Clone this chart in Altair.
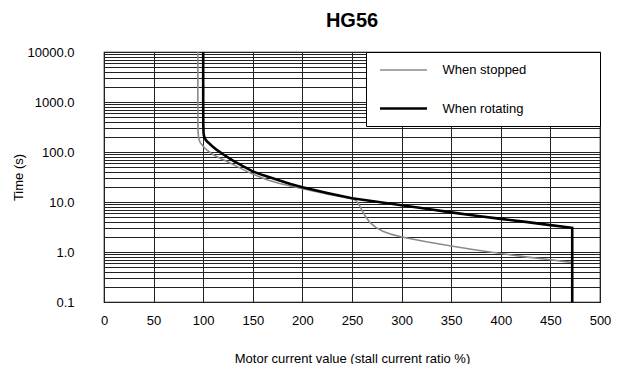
import altair as alt
import pandas as pd

# ---- data ----
series_names = ["When stopped", "When rotating"]
series_colors = ["#8a8a8a", "#000000"]
series_widths = [1.6, 2.6]

stopped_x = [94.6, 94.6, 94.7, 94.9, 95.3, 96.0, 97.2, 99.2, 101.5, 104.2, 107.5, 111,
             117.6, 125, 134.4, 145, 154.6, 165, 177, 199, 227, 250, 252, 254,
             256, 258, 261, 264, 268, 274, 281, 290, 300, 325, 350, 375,
             400, 425, 450, 471]
stopped_y = [10000, 1000, 300, 240, 200, 172, 152, 136, 120, 108, 96, 86,
             74, 63, 51, 40, 33, 27.5, 23.5, 18.6, 14.2, 11.7, 11.3, 10.6,
             9.6, 8.2, 6.3, 5.0, 3.9, 3.1, 2.6, 2.25, 2.0, 1.6, 1.32, 1.1,
             0.93, 0.8, 0.7, 0.62]

rotating_x = [100, 100, 100.1, 100.3, 100.7, 101.5, 102.8, 104.5, 106.5, 109.5, 113, 120,
              130, 140, 150, 160, 177, 188, 200, 225, 250, 275, 300, 325,
              350, 375, 400, 425, 450, 472, 472]
rotating_y = [10000, 1000, 350, 250, 214, 190, 172, 158, 146, 128, 113, 90,
              67, 52, 41, 34.5, 27, 23, 19.7, 15.2, 11.9, 10.1, 8.6, 7.3,
              6.2, 5.3, 4.6, 4.0, 3.45, 3.05, 0.1]

x_ticks = [0, 50, 100, 150, 200, 250, 300, 350, 400, 450, 500]
y_labels = [0.1, 1, 10, 100, 1000, 10000]
y_grid = sorted({round(m * d, 1) for d in y_labels[:-1] for m in range(1, 10)} | {10000})

rows = []
for name, xs, ys in [(series_names[0], stopped_x, stopped_y),
                     (series_names[1], rotating_x, rotating_y)]:
    for i, (xv, yv) in enumerate(zip(xs, ys)):
        rows.append({"series": name, "current": xv, "time": yv, "idx": i})
df = pd.DataFrame(rows)

font = "Liberation Sans"

# horizontal stroke symbol; the zero-length segment far right (draws nothing)
# widens the legend frame to the plot's right edge
legend_def = alt.Legend(
    title=None, orient="none", legendX=262, legendY=0,
    fillColor="white", strokeColor="black", padding=10,
    symbolType="M-3.36,0H3.36M25.9,0H25.9", symbolSize=196, symbolOffset=19,
    labelOffset=30.5, labelFontSize=13, labelFont=font, labelColor="black",
    rowPadding=23, labelLimit=400,
)

y_label_expr = ("indexof([0.1,1,10,100,1000,10000], datum.value) >= 0 ? "
                "format(datum.value, '.1f') : ''")

chart = alt.Chart(df).mark_line(clip=True).encode(
    x=alt.X("current:Q",
            scale=alt.Scale(domain=[0, 500], nice=False, zero=False),
            axis=alt.Axis(values=x_ticks, title="Motor current value (stall current ratio %)",
                          grid=True, gridColor="#222222", gridWidth=1, domain=False, ticks=False,
                          labelPadding=12, labelFontSize=13, labelFont=font, labelColor="black",
                          labelFlush=False, labelOverlap=False,
                          titleFont=font, titleFontSize=13, titleFontWeight="normal",
                          titleColor="black", titleY=56, titleBaseline="middle")),
    y=alt.Y("time:Q",
            scale=alt.Scale(type="log", domain=[0.1, 10000], nice=False),
            axis=alt.Axis(values=y_grid, labelExpr=y_label_expr, title="Time (s)",
                          grid=True, gridColor="#222222", gridWidth=1, domain=False, ticks=False,
                          labelPadding=30, labelFontSize=13, labelFont=font, labelColor="black",
                          labelFlush=False, labelOverlap=False, labelBaseline="middle",
                          titleFont=font, titleFontSize=13, titleFontWeight="normal",
                          titleColor="black", titleX=-86, titleY=125, titleBaseline="middle",
                          titleAlign="center")),
    color=alt.Color("series:N", scale=alt.Scale(domain=series_names, range=series_colors),
                    legend=legend_def),
    strokeWidth=alt.StrokeWidth("series:N", scale=alt.Scale(domain=series_names, range=series_widths),
                                legend=legend_def),
    order=alt.Order("idx:Q"),
).properties(
    width=496, height=250,
    title=alt.Title("HG56", fontSize=20, fontWeight="bold", font=font, anchor="middle",
                    baseline="bottom", offset=-5, color="black"),
    padding={"left": 96, "top": 44, "right": 14, "bottom": 62},
    autosize=alt.AutoSizeParams(type="none"),
).configure_view(stroke="black", strokeWidth=1.2)

chart.save("out.html", embed_options={"renderer": "svg", "actions": False})
